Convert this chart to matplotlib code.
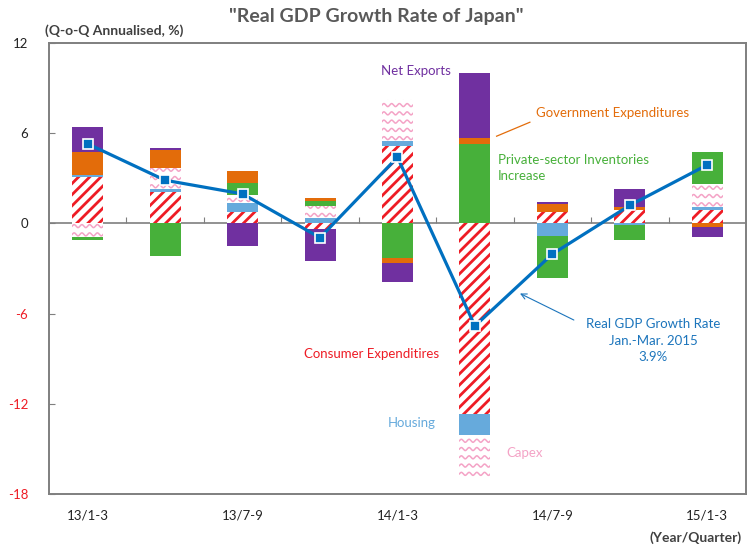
import matplotlib
matplotlib.use('Agg')
import matplotlib.pyplot as plt
import numpy as np

quarters = ['13/1-3', '13/4-6', '13/7-9', '13/10-12', '14/1-3',
            '14/4-6', '14/7-9', '14/10-12', '15/1-3']
tick_labels = ['13/1-3', '', '13/7-9', '', '14/1-3', '', '14/7-9', '', '15/1-3']

# contributions to growth, percentage points
consumer = [3.07, 2.07, 0.78, -0.37, 5.18, -12.70, 0.78, 0.89, 0.89]
housing = [0.13, 0.20, 0.58, 0.36, 0.29, -1.38, -0.84, -0.10, 0.18]
capex = [-0.93, 1.42, 0.51, 0.80, 2.82, -2.78, 0.0, 0.0, 1.53]
inventories = [-0.18, -2.16, 0.80, 0.35, -2.27, 5.29, -2.76, -1.00, 2.18]
government = [1.58, 1.22, 0.82, 0.18, -0.38, 0.40, 0.51, 0.22, -0.22]
net_exports = [1.62, 0.09, -1.53, -2.14, -1.26, 4.31, 0.16, 1.16, -0.71]
gdp = [5.29, 2.87, 1.96, -0.95, 4.40, -6.82, -2.04, 1.20, 3.89]

red = '#ee1c25'
blue_h = '#66aadc'
pink = '#f4a3c6'
green = '#47b03a'
orange = '#e36c0a'
purple = '#7030a0'
line_blue = '#0070c0'
gray = '#7f7f7f'

plt.rcParams['font.family'] = ['Lato', 'DejaVu Sans']
plt.rcParams['hatch.linewidth'] = 2.0

fig = plt.figure(figsize=(7.5, 5.47), dpi=100)
ax = fig.add_axes([0.0653, 0.0969, 0.9293, 0.8245])

x = np.arange(len(quarters))
width = 0.4
pos_bottom = np.zeros(len(x))
neg_bottom = np.zeros(len(x))

series = [
    (consumer, dict(facecolor='white', edgecolor=red, hatch='///', linewidth=0)),
    (housing, dict(color=blue_h, linewidth=0)),
    (capex, dict(facecolor='white', edgecolor='white', linewidth=0)),
    (inventories, dict(color=green, linewidth=0)),
    (government, dict(color=orange, linewidth=0)),
    (net_exports, dict(color=purple, linewidth=0)),
]

capex_bars = None
for vals, style in series:
    vals = np.array(vals)
    bottom = np.where(vals >= 0, pos_bottom, neg_bottom)
    bars = ax.bar(x, vals, width, bottom=bottom, zorder=2, **style)
    if style.get('edgecolor') == 'white':
        capex_bars = bars
    pos_bottom = pos_bottom + np.where(vals > 0, vals, 0)
    neg_bottom = neg_bottom + np.where(vals < 0, vals, 0)

# wavy pink texture for capex
for patch in capex_bars:
    h = patch.get_height()
    if h == 0:
        continue
    x0, w, y0 = patch.get_x(), patch.get_width(), patch.get_y()
    ylo, yhi = sorted([y0, y0 + h])
    xs = np.linspace(x0, x0 + w, 300)
    for r in np.arange(ylo + 0.2, yhi + 0.6, 0.55):
        ys = r + 0.1 * np.sin((xs - x0) / 0.1 * 2 * np.pi)
        ln, = ax.plot(xs, ys, color=pink, lw=1.1, zorder=3)
        ln.set_clip_path(patch)

ax.plot(x, gdp, color=line_blue, lw=2.3, marker='s', ms=7,
        mfc=line_blue, mec='white', mew=1.2, zorder=6)

ax.set_xlim(-0.5, 8.5)
ax.set_ylim(-18, 12)

ax.set_xticks(x)
ax.set_xticklabels(tick_labels, fontsize=9.5, color='#222222')
ax.tick_params(axis='x', length=0, pad=11)
ax.set_yticks([-18, -12, -6, 0, 6, 12])
ax.set_yticklabels(['-18', '-12', '-6', '0', '6', '12'], fontsize=9.5)
for lab in ax.get_yticklabels():
    lab.set_color(red if lab.get_text().startswith('-') else '#222222')
ax.tick_params(axis='y', direction='in', length=4, color=gray, pad=15)

for sp in ax.spines.values():
    sp.set_color(gray)
    sp.set_linewidth(1.4)

# zero line with category-boundary ticks
zero = ax.secondary_xaxis(0, transform=ax.transData)
zero.set_xticks(np.arange(0.5, 8, 1))
zero.tick_params(direction='in', length=4, color=gray, labelbottom=False, labeltop=False)
zero.spines['bottom'].set_color(gray)
zero.spines['bottom'].set_linewidth(1.2)
zero.spines['top'].set_color(gray)

fs = 9.5
ax.text(3.79, 10.13, 'Net Exports', color=purple, fontsize=fs, va='center')
ax.text(5.79, 7.33, 'Government Expenditures', color=orange, fontsize=fs, va='center')
ax.plot([5.28, 5.71], [5.8, 6.73], color=orange, lw=0.9, zorder=4)
ax.text(5.30, 3.7, 'Private-sector Inventories\nIncrease', color=green,
        fontsize=fs, va='center', linespacing=1.45)
ax.text(2.79, -8.67, 'Consumer Expenditires', color=red, fontsize=fs, va='center')
ax.text(3.88, -13.25, 'Housing', color=blue_h, fontsize=fs, va='center')
ax.text(5.41, -15.27, 'Capex', color=pink, fontsize=fs, va='center')
ax.text(7.30, -7.8, 'Real GDP Growth Rate\nJan.-Mar. 2015\n3.9%', color='#1c75bc',
        fontsize=fs, ha='center', va='center', linespacing=1.45)
ax.annotate('', xy=(5.55, -4.58), xytext=(6.31, -6.51),
            arrowprops=dict(arrowstyle='->', color='#1c75bc', lw=0.8))

fig.text(0.502, 0.9695, '"Real GDP Growth Rate of Japan"', ha='center', va='center',
         fontsize=14, fontweight='bold', color='#595959')
fig.text(0.06, 0.9433, '(Q-o-Q Annualised, %)', ha='left', va='center',
         fontsize=10, fontweight='bold', color='#404040')
fig.text(0.989, 0.0165, '(Year/Quarter)', ha='right', va='center',
         fontsize=10, fontweight='bold', color='#404040')

fig.savefig('out.png', dpi=100)
